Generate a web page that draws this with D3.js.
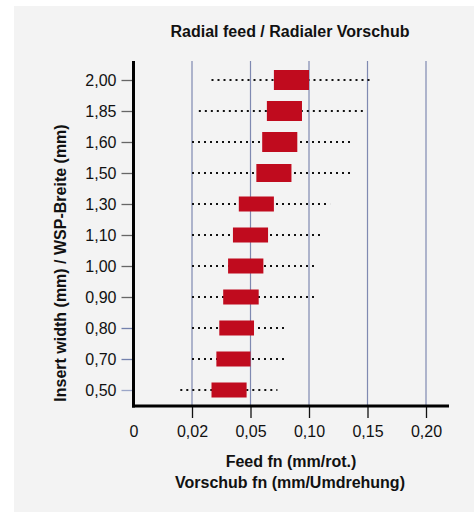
<!DOCTYPE html>
<html>
<head>
<meta charset="utf-8">
<script src="https://cdn.jsdelivr.net/npm/d3@7"></script>
<style>
  html, body { margin: 0; padding: 0; background: #ffffff; }
  svg { display: block; font-family: "Liberation Sans", Arial, sans-serif; }
</style>
</head>
<body>
<svg id="chart" width="474" height="512"></svg>
<script>
// Insert widths (mm), top to bottom
const widths = ["2,00", "1,85", "1,60", "1,50", "1,30", "1,10", "1,00", "0,90", "0,80", "0,70", "0,50"];
// Recommended feed range (mm/rev) – solid bar
const feedLow  = [0.070, 0.064, 0.060, 0.055, 0.044, 0.041, 0.0385, 0.036, 0.034, 0.0325, 0.030];
const feedHigh = [0.100, 0.094, 0.090, 0.085, 0.070, 0.065, 0.061, 0.057, 0.053, 0.050, 0.048];
// Possible feed range (mm/rev) – dotted line
const feedMin  = [0.030, 0.0235, 0.020, 0.020, 0.020, 0.020, 0.020, 0.020, 0.020, 0.020, 0.016];
const feedMax  = [0.155, 0.146, 0.138, 0.138, 0.118, 0.112, 0.106, 0.106, 0.080, 0.080, 0.073];
// Feed axis ticks (evenly spaced on the chart)
const feedTicks = [0, 0.02, 0.05, 0.10, 0.15, 0.20];
const feedTickLabels = ["0", "0,02", "0,05", "0,10", "0,15", "0,20"];

const svg = d3.select("#chart");

// light panel
svg.append("rect").attr("x", 14).attr("y", 6).attr("width", 460).attr("height", 506).attr("fill", "#f3f3f3");

const plotTop = 61, plotBottom = 406, plotLeft = 133.5, plotRight = 449;

// piecewise-linear feed scale: every tick interval gets the same width
const step = 58.5;
const x = d3.scaleLinear()
  .domain(feedTicks)
  .range(feedTicks.map((d, i) => plotLeft + i * step));

const y = d3.scalePoint().domain(widths).range([80, 390]);

const rows = widths.map((w, i) => ({
  w, lo: feedLow[i], hi: feedHigh[i], min: feedMin[i], max: feedMax[i],
  h: i < 3 ? 20 : (i === 3 ? 18 : 15)
}));

// vertical grid lines
svg.append("g")
  .selectAll("line")
  .data(feedTicks.slice(1))
  .join("line")
  .attr("x1", d => x(d)).attr("x2", d => x(d))
  .attr("y1", plotTop).attr("y2", plotBottom)
  .attr("stroke", "#7f89b1").attr("stroke-width", 1.2);

// dotted full range
svg.append("g")
  .selectAll("line")
  .data(rows)
  .join("line")
  .attr("x1", d => x(d.min)).attr("x2", d => x(d.max))
  .attr("y1", d => y(d.w)).attr("y2", d => y(d.w))
  .attr("stroke", "#111").attr("stroke-width", 2)
  .attr("stroke-dasharray", "2,4");

// recommended range bars
svg.append("g")
  .selectAll("rect")
  .data(rows)
  .join("rect")
  .attr("x", d => x(d.lo))
  .attr("width", d => x(d.hi) - x(d.lo))
  .attr("y", d => y(d.w) - d.h / 2)
  .attr("height", d => d.h)
  .attr("fill", "#c00b1e");

// y axis
const yAxis = svg.append("g")
  .attr("transform", `translate(${plotLeft},0)`)
  .call(d3.axisLeft(y).tickSize(12).tickPadding(5));
yAxis.select(".domain").remove();
yAxis.selectAll(".tick line")
  .attr("stroke", (d, i) => i < 8 ? "#666" : (i < 10 ? "#7381ad" : "#9ba6c8"))
  .attr("stroke-width", 1.3);
yAxis.selectAll(".tick text")
  .attr("font-size", 16).attr("fill", "#111")
  .attr("font-family", "'Liberation Sans', Arial, sans-serif")
  .attr("dy", "0.35em");

// x axis
const xAxis = svg.append("g")
  .attr("transform", `translate(0,${plotBottom})`)
  .call(d3.axisBottom(x).tickValues(feedTicks).tickFormat((d, i) => feedTickLabels[i]).tickSize(12).tickPadding(8));
xAxis.select(".domain").remove();
xAxis.selectAll(".tick line")
  .attr("stroke", (d, i) => i === 0 ? "none" : "#111")
  .attr("stroke-width", 1.3);
xAxis.selectAll(".tick text")
  .attr("font-size", 16).attr("fill", "#111")
  .attr("font-family", "'Liberation Sans', Arial, sans-serif");

// heavy axis frame lines
svg.append("line")
  .attr("x1", plotLeft).attr("x2", plotLeft)
  .attr("y1", plotTop).attr("y2", plotBottom + 1.5)
  .attr("stroke", "#000").attr("stroke-width", 3);
svg.append("line")
  .attr("x1", plotLeft - 1.5).attr("x2", plotRight)
  .attr("y1", plotBottom).attr("y2", plotBottom)
  .attr("stroke", "#000").attr("stroke-width", 3);

// titles
svg.append("text")
  .attr("x", 290).attr("y", 37)
  .attr("text-anchor", "middle")
  .attr("font-size", 16).attr("font-weight", "bold").attr("fill", "#111")
  .text("Radial feed / Radialer Vorschub");

svg.append("text")
  .attr("x", 291).attr("y", 467)
  .attr("text-anchor", "middle")
  .attr("font-size", 16).attr("font-weight", "bold").attr("fill", "#111")
  .text("Feed fn (mm/rot.)");

svg.append("text")
  .attr("x", 290).attr("y", 488)
  .attr("text-anchor", "middle")
  .attr("font-size", 16).attr("font-weight", "bold").attr("fill", "#111")
  .text("Vorschub fn (mm/Umdrehung)");

svg.append("text")
  .attr("transform", "translate(66,263) rotate(-90)")
  .attr("text-anchor", "middle")
  .attr("font-size", 16).attr("font-weight", "bold").attr("fill", "#111")
  .text("Insert width (mm) / WSP-Breite (mm)");
</script>
</body>
</html>
